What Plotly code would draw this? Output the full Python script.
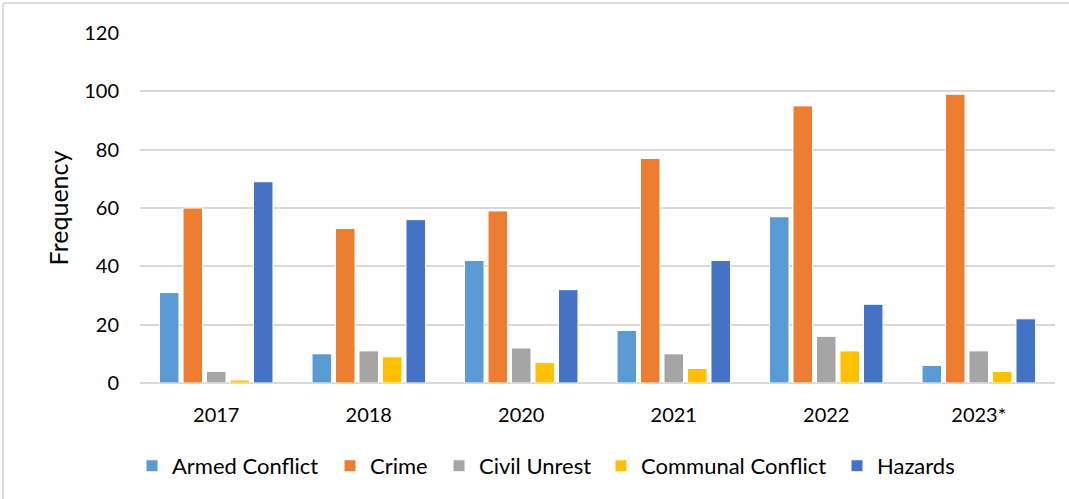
import plotly.graph_objects as go

years = ["2017", "2018", "2020", "2021", "2022", "2023*"]
armed_conflict = [31, 10, 42, 18, 57, 6]
crime = [60, 53, 59, 77, 95, 99]
civil_unrest = [4, 11, 12, 10, 16, 11]
communal_conflict = [1, 9, 7, 5, 11, 4]
hazards = [69, 56, 32, 42, 27, 22]

series = [
    ("Armed Conflict", armed_conflict, "#5B9BD5"),
    ("Crime", crime, "#ED7D31"),
    ("Civil Unrest", civil_unrest, "#A5A5A5"),
    ("Communal Conflict", communal_conflict, "#FFC000"),
    ("Hazards", hazards, "#4472C4"),
]

W, H = 1069, 499
ml, mr, mt, mb = 140, 14, 33, 116
pw, ph = W - ml - mr, H - mt - mb

# pixel x where each legend entry's text should begin
legend_text_px = [172, 370, 479, 641, 877]

FONT = "Lato, Liberation Sans, sans-serif"

fig = go.Figure()
legend_layout = {}
for i, (name, vals, color) in enumerate(series):
    key = "legend" if i == 0 else f"legend{i+1}"
    fig.add_trace(go.Bar(x=years, y=vals, name=name, legend=key,
                         marker=dict(color=color, line=dict(color="white", width=1))))
    legend_layout[key] = dict(
        orientation="h", x=(legend_text_px[i] - 40 - ml) / pw, xanchor="left",
        y=-0.237, yanchor="middle", font=dict(size=22, family=FONT),
        bgcolor="rgba(0,0,0,0)", borderwidth=0,
    )

fig.update_layout(
    width=W, height=H,
    margin=dict(l=ml, r=mr, t=mt, b=mb),
    paper_bgcolor="white", plot_bgcolor="white",
    barmode="group", bargap=0.23, bargroupgap=0.17,
    font=dict(family=FONT, size=20, color="#000000"),
    showlegend=True,
    xaxis=dict(showgrid=False, showline=False, ticks="", ticklabelstandoff=18,
               tickfont=dict(size=20)),
    yaxis=dict(range=[0, 120], dtick=20, showgrid=True, gridcolor="#D9D9D9", gridwidth=1.5,
               zeroline=True, zerolinecolor="#D9D9D9", zerolinewidth=1.5,
               showline=False, ticks="", ticklabelstandoff=20,
               title=dict(text="Frequency", font=dict(size=25), standoff=8),
               tickfont=dict(size=20)),
    **legend_layout,
)

# outer frame (left and top edges of a box)
x_left = (3 - ml) / pw
y_top = (H - 3 - mb) / ph
x_right = (W - ml) / pw
y_bot = (0 - mb) / ph
fig.add_shape(type="line", xref="paper", yref="paper", x0=x_left, x1=x_right, y0=y_top, y1=y_top,
              line=dict(color="#D0D0D0", width=1.5))
fig.add_shape(type="line", xref="paper", yref="paper", x0=x_left, x1=x_left, y0=y_top, y1=y_bot,
              line=dict(color="#D0D0D0", width=1.5))

fig.write_html("out.html", config={"displayModeBar": False},
               post_script="document.body.style.margin='0px';")
